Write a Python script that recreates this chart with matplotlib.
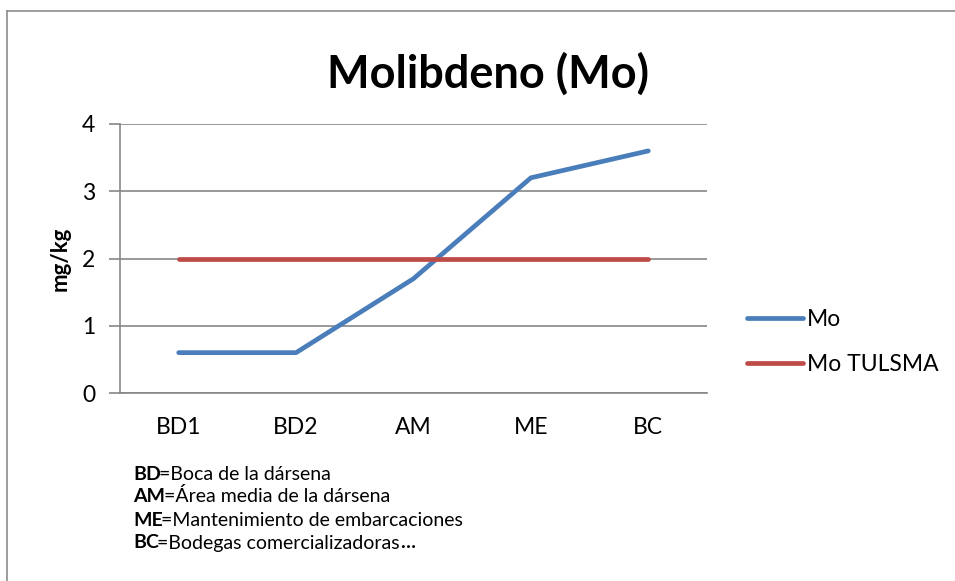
import matplotlib.pyplot as plt
from matplotlib.lines import Line2D

plt.rcParams['font.family'] = ['Lato', 'DejaVu Sans']

categories = ['BD1', 'BD2', 'AM', 'ME', 'BC']
mo = [0.6, 0.6, 1.7, 3.2, 3.6]
mo_tulsma = [2, 2, 2, 2, 2]
yticks = [0, 1, 2, 3, 4]

notes = [('BD', '=Boca de la dársena'),
         ('AM', '=Área media de la dársena'),
         ('ME', '=Mantenimiento de embarcaciones'),
         ('BC', '=Bodegas comercializadoras')]

W, H = 955, 581
fig = plt.figure(figsize=(W / 100, H / 100), dpi=100)

# outer chart frame (only top and left edges visible)
fig.add_artist(Line2D([7 / W, 7 / W], [0, 1 - 11 / H], color='#8c8c8c', lw=1.2))
fig.add_artist(Line2D([7 / W, 1], [1 - 11 / H, 1 - 11 / H], color='#8c8c8c', lw=1.2))

ax = fig.add_axes([120 / W, 1 - 393 / H, (707 - 120) / W, (393 - 124) / H])
x = range(len(categories))
ax.plot(x, mo, color='#4a7ebb', lw=3.4, solid_capstyle='round', label='Mo')
ax.plot(x, mo_tulsma, color='#be4b48', lw=3.4, solid_capstyle='round', label='Mo TULSMA')

ax.set_xlim(-0.5, len(categories) - 0.5)
ax.set_ylim(0, 4)
ax.set_yticks(yticks)
ax.set_xticks(list(x))
ax.set_xticklabels(categories)
ax.grid(axis='y', color='#868686', lw=1.2)
ax.set_axisbelow(True)
for s in ['top', 'right']:
    ax.spines[s].set_visible(False)
for s in ['left', 'bottom']:
    ax.spines[s].set_color('#868686')
    ax.spines[s].set_linewidth(1.2)
ax.tick_params(axis='y', length=8, width=1.2, color='#868686', labelsize=16.5, pad=10)
ax.tick_params(axis='x', length=0, labelsize=16.5, pad=17)
ax.set_ylabel('mg/kg', fontsize=16, fontweight='bold', labelpad=8)

fig.text(488 / W, 1 - 74 / H, 'Molibdeno (Mo)', fontsize=32.5, fontweight='bold',
         ha='center', va='center')

ax.legend(loc='center left', bbox_to_anchor=(1.068, 0.19), frameon=False,
          borderaxespad=0, borderpad=0,
          fontsize=16.5, handlelength=2.45, handletextpad=0.17, labelspacing=1.05)

y0 = 474
for i, (abbr, desc) in enumerate(notes):
    t = fig.text(133 / W, 1 - (y0 + 23 * i) / H, abbr, fontsize=14,
                 fontweight='bold', va='center')
    a = ax.annotate(desc, xy=(1, 0), xycoords=t, va='bottom', fontsize=14,
                    xytext=(-1, 0), textcoords='offset points')
    if i == len(notes) - 1:
        ax.annotate('…', xy=(1, 0), xycoords=a, va='bottom', fontsize=14,
                    fontweight='bold')

fig.savefig('out.png', dpi=100)
